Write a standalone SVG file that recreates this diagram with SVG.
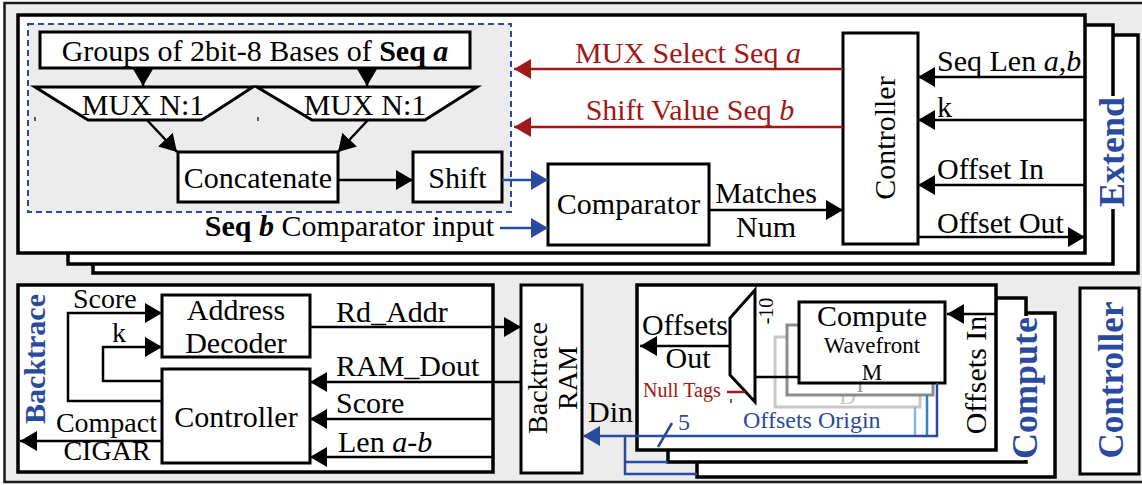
<svg xmlns="http://www.w3.org/2000/svg" width="1142" height="485" viewBox="0 0 1142 485">
<defs>
<style>
text{font-family:"Liberation Serif","Times New Roman",serif;font-size:30px;fill:#000}
.box{fill:#fff;stroke:#000;stroke-width:3}
.stk{fill:#fff;stroke:#000;stroke-width:3.5}
.ln{fill:none;stroke:#000;stroke-width:2.5}
.red{fill:none;stroke:#a01818;stroke-width:2.5}
.blu{fill:none;stroke:#2a4a9f;stroke-width:2.5}
.rt{fill:#a01818}
.bt{fill:#2a4a9f}
.lab{font-weight:bold;fill:#2a4a9f}
.f36{font-size:36px}
.f35{font-size:35px}
.f28{font-size:28px}
.f24{font-size:24px}
.f23{font-size:23px}
.f20{font-size:20px}
.c{text-anchor:middle}
.e{text-anchor:end}
.b{font-weight:bold}
.i{font-style:italic}
</style>
<marker id="ak" markerUnits="userSpaceOnUse" markerWidth="18" markerHeight="20" refX="17" refY="10" orient="auto"><path d="M0,0 L17,10 L0,20 z" fill="#000"/></marker>
<marker id="ar" markerUnits="userSpaceOnUse" markerWidth="18" markerHeight="20" refX="17" refY="10" orient="auto"><path d="M0,0 L17,10 L0,20 z" fill="#a01818"/></marker>
<marker id="ab" markerUnits="userSpaceOnUse" markerWidth="18" markerHeight="20" refX="17" refY="10" orient="auto"><path d="M0,0 L17,10 L0,20 z" fill="#2a4a9f"/></marker>
</defs>
<rect width="1142" height="485" fill="#fff"/>
<rect x="4.5" y="3" width="1150" height="479" fill="#ececec" stroke="#1a1a1a" stroke-width="2.5"/>

<g id="extend">
<rect class="stk" x="93" y="35" width="1045" height="238"/>
<rect class="stk" x="68" y="25" width="1045" height="239"/>
<rect class="stk" x="18" y="15" width="1067" height="238"/>
<rect x="1097" y="96" width="31" height="113" fill="#fff"/>
<text class="lab f36 c" transform="translate(1124,152) rotate(-90)">Extend</text>
</g>

<g id="seqa-group">
<rect x="28" y="24" width="483" height="188" fill="#ececec" stroke="#2a4a9f" stroke-width="2" stroke-dasharray="6 4"/>
</g>

<g id="groups">
<rect class="box" x="40" y="32" width="430" height="36"/>
<text class="c" x="255" y="61">Groups of 2bit-8 Bases of <tspan class="b">Seq <tspan class="i">a</tspan></tspan></text>
</g>
<g id="mux1">
<polygon class="box" points="35,87 253,87 202,120 88,120"/>
<text class="c" x="143" y="115">MUX N:1</text>
<path d="M35,117V121M258,117V121" stroke="#000" stroke-width="1.2"/>
</g>
<g id="mux2">
<polygon class="box" points="257,87 477,87 425,120 312,120"/>
<text class="c" x="365" y="115">MUX N:1</text>
</g>
<g id="concatenate">
<rect class="box" x="178" y="152" width="160" height="50"/>
<text class="c" x="258" y="188">Concatenate</text>
</g>
<g id="shift">
<rect class="box" x="413" y="152" width="89" height="50"/>
<text class="c" x="457.5" y="188">Shift</text>
</g>
<g id="comparator">
<rect class="box" x="548" y="164" width="161" height="81"/>
<text class="c" x="628.5" y="214">Comparator</text>
</g>
<g id="extend-controller">
<rect class="box" x="843" y="33" width="75" height="211"/>
<text class="c" transform="translate(895,138) rotate(-90)">Controller</text>
</g>

<g id="backtrace">
<rect class="stk" x="18" y="285" width="475" height="187"/>
<text class="lab c" transform="translate(45,359) rotate(-90)">Backtrace</text>
</g>
<g id="address-decoder">
<rect class="box" x="162" y="295" width="148" height="62"/>
<text class="c" x="236" y="320">Address</text>
<text class="c" x="236" y="353">Decoder</text>
</g>
<g id="backtrace-controller">
<rect class="box" x="162" y="369" width="148" height="94"/>
<text class="c" x="236" y="427">Controller</text>
</g>
<g id="backtrace-ram">
<rect class="box" x="521" y="285" width="61" height="188"/>
<text class="c f28" transform="translate(547,378) rotate(-90)">Backtrace</text>
<text class="c f28" transform="translate(577,378) rotate(-90)">RAM</text>
</g>

<g id="compute">
<rect class="stk" x="697" y="313" width="358" height="164"/>
<rect class="stk" x="668" y="298" width="358" height="164"/>
<rect class="stk" x="637" y="285" width="359" height="165"/>
<rect x="1010" y="316" width="36" height="144" fill="#fff"/>
<text class="lab f36 c" transform="translate(1037,388) rotate(-90)">Compute</text>
<text class="c" transform="translate(986,375) rotate(-90)">Offsets In</text>
</g>
<g id="wavefront-d">
<rect x="775" y="337" width="145" height="70" fill="#fff" stroke="#c8c8c8" stroke-width="3"/>
<text class="c f23" x="847.5" y="404" style="fill:#c8c8c8">D</text>
</g>
<g id="wavefront-i">
<rect x="787" y="325" width="146" height="70" fill="#fff" stroke="#8c8c8c" stroke-width="3"/>
<text class="c f23" x="860" y="392" style="fill:#999">I</text>
</g>
<g id="wavefront-m">
<rect class="box" x="799" y="302" width="146" height="81"/>
<text class="c" x="872" y="326">Compute</text>
<text class="c f23" x="872" y="353">Wavefront</text>
<text class="c f23" x="872" y="380">M</text>
</g>
<g id="compute-mux">
<polygon class="box" points="755,290 755,402 730,375 730,318"/>
<text class="c f20" transform="translate(773,311) rotate(-90)">-10</text>
<path d="M731,399V403" stroke="#000" stroke-width="1.2"/>
</g>

<g id="controller">
<rect class="box" x="1080" y="288" width="59" height="186"/>
<text class="lab f35 c" transform="translate(1123,380) rotate(-90)">Controller</text>
</g>

<g id="connectors">
<path class="ln" d="M143,68V86" marker-end="url(#ak)"/>
<path class="ln" d="M367,68V86" marker-end="url(#ak)"/>
<path class="ln" d="M147,120L177,152" marker-end="url(#ak)"/>
<path class="ln" d="M368,120L338,152" marker-end="url(#ak)"/>
<path class="ln" d="M338,180H413" marker-end="url(#ak)"/>
<path class="blu" d="M502,180H548" marker-end="url(#ab)"/>
<path class="blu" d="M500,228H548" marker-end="url(#ab)"/>
<path class="ln" d="M709,210H843" marker-end="url(#ak)"/>
<path class="red" d="M843,69H514" marker-end="url(#ar)"/>
<path class="red" d="M843,127H514" marker-end="url(#ar)"/>
<path class="ln" d="M1085,77H918" marker-end="url(#ak)"/>
<path class="ln" d="M1085,120H918" marker-end="url(#ak)"/>
<path class="ln" d="M1085,185H918" marker-end="url(#ak)"/>
<path class="ln" d="M918,237H1085" marker-end="url(#ak)"/>

<path class="ln" d="M162,401H68V313H162" marker-end="url(#ak)"/>
<path class="ln" d="M162,381H103V347H162" marker-end="url(#ak)"/>
<path class="ln" d="M162,441H20" marker-end="url(#ak)"/>
<path class="ln" d="M310,327H521" marker-end="url(#ak)"/>
<path class="ln" d="M521,382H310" marker-end="url(#ak)"/>
<path class="ln" d="M493,419H310" marker-end="url(#ak)"/>
<path class="ln" d="M493,457H310" marker-end="url(#ak)"/>

<path d="M915,407V436" stroke="#8fb6e3" stroke-width="2.5" fill="none"/>
<path d="M927,395V436" stroke="#3a80c8" stroke-width="2.5" fill="none"/>
<path class="blu" d="M937,383V436H583" marker-end="url(#ab)"/>
<path class="blu" d="M625,436V474H697M625,462H668"/>
<path class="blu" d="M658,447L672,423"/>
<path class="ln" d="M730,346H640" marker-end="url(#ak)"/>
<path class="ln" d="M755,377H799"/>
<path class="red" d="M727,392H745"/>
<path class="ln" d="M996,314H947" marker-end="url(#ak)"/>
</g>

<g id="labels">
<text class="c rt" x="688" y="63">MUX Select Seq <tspan class="i">a</tspan></text>
<text class="c rt" x="690" y="120">Shift Value Seq <tspan class="i">b</tspan></text>
<text class="e" x="494" y="236"><tspan class="b">Seq <tspan class="i">b</tspan></tspan> Comparator input</text>
<text class="c" x="766" y="203">Matches</text>
<text class="c" x="766" y="237">Num</text>
<text x="937" y="71">Seq Len <tspan class="i">a</tspan>,<tspan class="i">b</tspan></text>
<text x="937" y="117">k</text>
<text x="937" y="179">Offset In</text>
<text x="937" y="233">Offset Out</text>

<text class="f28" x="73" y="308">Score</text>
<text class="f28" x="112" y="342">k</text>
<text class="f28 e" x="157" y="432">Compact</text>
<text class="f28 c" x="107" y="460">CIGAR</text>
<text x="336" y="322">Rd_Addr</text>
<text x="336" y="376">RAM_Dout</text>
<text x="336" y="413">Score</text>
<text x="338" y="452">Len <tspan class="i">a-b</tspan></text>
<text x="588" y="422">Din</text>

<text class="c" x="685" y="335">Offsets</text>
<text class="c" x="688" y="368">Out</text>
<text class="f20 rt" x="643" y="397">Null Tags</text>
<text class="f24 bt" x="678" y="430">5</text>
<text class="f24 bt" x="743" y="428">Offsets Origin</text>
</g>
</svg>
